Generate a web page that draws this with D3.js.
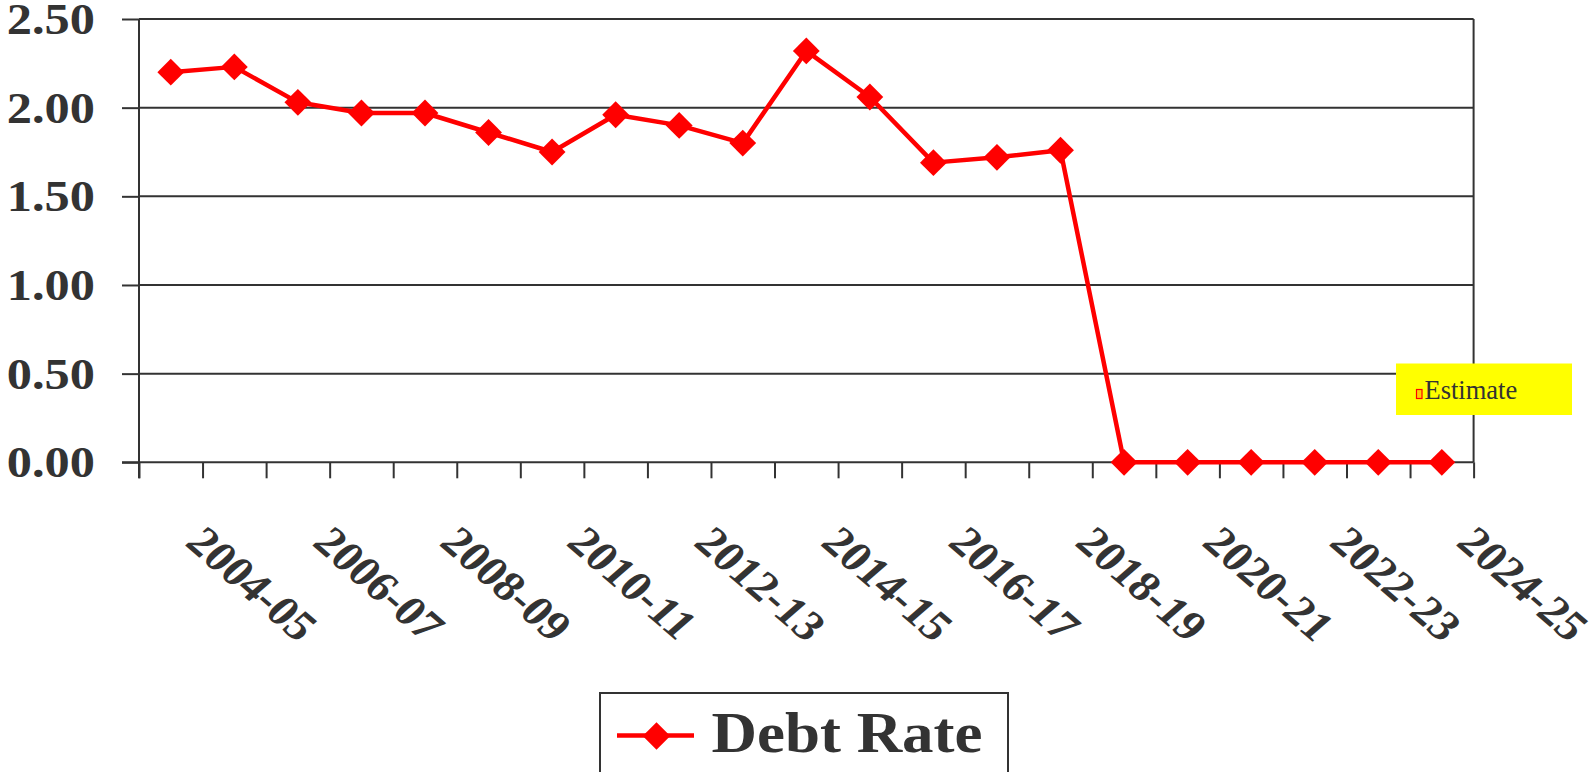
<!DOCTYPE html>
<html>
<head>
<meta charset="utf-8">
<script src="https://cdn.jsdelivr.net/npm/d3@7"></script>
<style>
html,body{margin:0;padding:0;background:#fff;overflow:hidden;}
svg{display:block;}
</style>
</head>
<body>
<svg id="chart" width="1595" height="772"></svg>
<script>
const categories = ['2004-05','2005-06','2006-07','2007-08','2008-09','2009-10','2010-11','2011-12','2012-13','2013-14','2014-15','2015-16','2016-17','2017-18','2018-19','2019-20','2020-21','2021-22','2022-23','2023-24','2024-25'];
const debtRate = [2.20, 2.23, 2.03, 1.97, 1.97, 1.86, 1.75, 1.96, 1.90, 1.80, 2.32, 2.06, 1.69, 1.72, 1.76, 0, 0, 0, 0, 0, 0];
const yTicks = [0, 0.5, 1.0, 1.5, 2.0, 2.5];
const xLabelCats = categories.filter((d, i) => i % 2 === 0);
const seriesName = 'Debt Rate';
const noteText = 'Estimate';

const svg = d3.select('#chart');
const L = 139, R = 1473.6, T = 19, B = 462.3;
const ink = '#333333';
const red = '#ff0000';
const serif = '"Liberation Serif", "Times New Roman", serif';

const x = d3.scaleBand().domain(categories).range([L, R]).paddingInner(0).paddingOuter(0);
const xEdge = d3.scaleLinear().domain([0, categories.length]).range([L, R]);
const y = d3.scaleLinear().domain([0, 2.5]).range([B, T]);

// gridlines
svg.append('g').selectAll('line').data(yTicks.filter(d => d > 0)).join('line')
  .attr('x1', L).attr('x2', R).attr('y1', d => y(d)).attr('y2', d => y(d))
  .attr('stroke', ink).attr('stroke-width', 2);

// right border
svg.append('line').attr('x1', R).attr('x2', R).attr('y1', T).attr('y2', B)
  .attr('stroke', ink).attr('stroke-width', 2);

// y axis
const yAxis = svg.append('g').attr('transform', `translate(${L},0)`)
  .call(d3.axisLeft(y).tickValues(yTicks).tickFormat(d3.format('.2f')).tickSize(17).tickPadding(0));
yAxis.select('.domain').attr('stroke', ink).attr('stroke-width', 2).attr('d', `M0,${T}V${B + 16}`);
yAxis.selectAll('.tick line').attr('stroke', ink).attr('stroke-width', 2);
yAxis.selectAll('.tick text')
  .attr('x', null).attr('dy', null).attr('y', null)
  .attr('text-anchor', 'end')
  .attr('transform', 'translate(-44,14.5) scale(1.12,1)')
  .attr('fill', ink)
  .style('font-family', serif).style('font-weight', 'bold').style('font-size', '45px');

// x axis (ticks at category boundaries)
const xAxis = svg.append('g').attr('transform', `translate(0,${B})`)
  .call(d3.axisBottom(xEdge).tickValues(d3.range(categories.length + 1)).tickFormat('').tickSize(16));
xAxis.select('.domain').attr('stroke', ink).attr('stroke-width', 2).attr('d', `M${L - 17},0H${R}`);
xAxis.selectAll('.tick line').attr('stroke', ink).attr('stroke-width', 2);

// x labels
svg.append('g').selectAll('text').data(xLabelCats).join('text')
  .attr('transform', d => `translate(${x(d) + x.bandwidth() / 2 + 13},${B + 82}) scale(1.15,1) rotate(45)`)
  .attr('text-anchor', 'start')
  .attr('fill', ink)
  .style('font-family', serif).style('font-weight', 'bold').style('font-size', '42px')
  .text(d => d);

// series line
const line = d3.line().x((d, i) => x(categories[i]) + x.bandwidth() / 2).y(d => y(d));
svg.append('path').datum(debtRate).attr('d', line)
  .attr('fill', 'none').attr('stroke', red).attr('stroke-width', 4.5).attr('stroke-linejoin', 'round');

const diamond = d3.symbol().type(d3.symbolSquare).size(360);
svg.append('g').selectAll('path').data(debtRate).join('path')
  .attr('d', diamond)
  .attr('transform', (d, i) => `translate(${x(categories[i]) + x.bandwidth() / 2},${y(d)}) rotate(45)`)
  .attr('fill', red);

// Estimate note
const note = svg.append('g');
note.append('rect').attr('x', 1396).attr('y', 363.5).attr('width', 176).attr('height', 51.5).attr('fill', '#ffff00');
note.append('rect').attr('x', 1416.5).attr('y', 389.5).attr('width', 5.5).attr('height', 9)
  .attr('fill', '#ffd000').attr('stroke', red).attr('stroke-width', 1.2);
note.append('text').attr('x', 1424.5).attr('y', 398.5).attr('fill', ink)
  .style('font-family', serif).style('font-size', '26.5px').text(noteText);

// legend
const lg = svg.append('g');
lg.append('rect').attr('x', 600).attr('y', 693).attr('width', 408).attr('height', 120)
  .attr('fill', '#fff').attr('stroke', ink).attr('stroke-width', 2);
lg.append('line').attr('x1', 617).attr('x2', 694).attr('y1', 735.5).attr('y2', 735.5)
  .attr('stroke', red).attr('stroke-width', 4.5);
lg.append('path').attr('d', d3.symbol().type(d3.symbolSquare).size(380)())
  .attr('transform', 'translate(656.5,736) rotate(45)').attr('fill', red);
lg.append('text').attr('transform', 'translate(711.5,751.5) scale(1.105,1)')
  .attr('fill', ink)
  .style('font-family', serif).style('font-weight', 'bold').style('font-size', '57px')
  .text(seriesName);
</script>
</body>
</html>
